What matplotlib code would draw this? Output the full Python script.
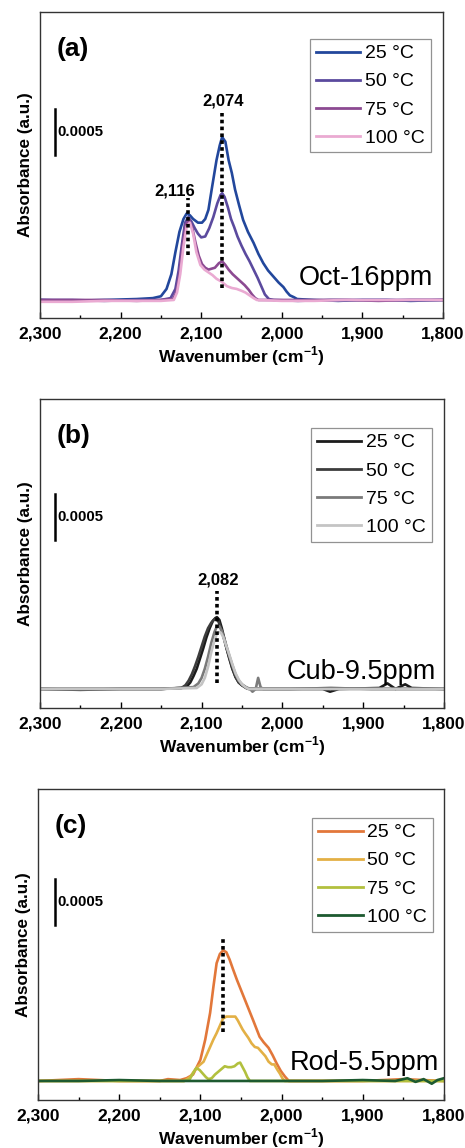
import matplotlib
matplotlib.use("Agg")
import matplotlib.pyplot as plt
from matplotlib.ticker import MultipleLocator

plt.rcParams['font.family'] = ['Liberation Sans', 'DejaVu Sans']
plt.rcParams['mathtext.fontset'] = 'custom'
plt.rcParams['mathtext.rm'] = 'Liberation Sans'
plt.rcParams['mathtext.bf'] = 'Liberation Sans:bold'

# ---- data (wavenumber in cm-1, absorbance above baseline) ----
XTICKS = [2300, 2200, 2100, 2000, 1900, 1800]
XTICK_LABELS = ['2,300', '2,200', '2,100', '2,000', '1,900', '1,800']
TEMPS = ['25 °C', '50 °C', '75 °C', '100 °C']

# (a) Oct-16ppm
A25_WN = [2300, 2260, 2220, 2180, 2160, 2150, 2143, 2137, 2132, 2127, 2122, 2118, 2114, 2110, 2104,
          2099, 2095, 2091, 2087, 2081, 2077, 2074, 2070, 2066, 2062, 2058, 2053, 2048, 2042, 2035,
          2029, 2023, 2017, 2010, 2004, 1998, 1994, 1990, 1985, 1981, 1960, 1930, 1900, 1870, 1840, 1800]
A25_ABS = [0.0, -0.00001, 0.0, 0.00001, 0.00002, 0.00004, 0.00012, 0.00028, 0.00052, 0.00074, 0.00088,
           0.00094, 0.00092, 0.00088, 0.00084, 0.00084, 0.00088, 0.00098, 0.0012, 0.00152, 0.00168,
           0.00177, 0.00172, 0.00152, 0.00138, 0.0012, 0.00103, 0.00087, 0.00074, 0.00062, 0.0005,
           0.0004, 0.00032, 0.00025, 0.00019, 0.00014, 0.00009, 0.00005, 0.00003, 0.00001, 0.0,
           -0.00001, 0.0, 0.0, -0.00001, 0.0]
A50_WN = [2300, 2260, 2220, 2180, 2150, 2138, 2132, 2128, 2124, 2120, 2116, 2112, 2108, 2104, 2100,
          2095, 2090, 2085, 2080, 2076, 2074, 2071, 2067, 2063, 2059, 2055, 2050, 2045, 2040, 2035,
          2030, 2025, 2021, 2016, 2010, 1980, 1940, 1900, 1860, 1800]
A50_ABS = [0.0, 0.0, -0.00001, 0.0, 0.0, 0.00002, 0.00012, 0.00032, 0.0006, 0.00084, 0.0009, 0.00085,
           0.00078, 0.00072, 0.00068, 0.00069, 0.00078, 0.0009, 0.00105, 0.00114, 0.00116, 0.00112,
           0.00101, 0.00088, 0.00079, 0.00069, 0.00059, 0.0005, 0.00042, 0.00033, 0.00024, 0.00014,
           0.00006, 0.00001, 0.0, -0.00001, 0.0, 0.0, 0.0, 0.0]
A75_WN = [2300, 2260, 2220, 2180, 2150, 2135, 2131, 2127, 2123, 2119, 2115, 2111, 2107, 2103, 2099,
          2095, 2091, 2087, 2083, 2078, 2074, 2070, 2066, 2061, 2056, 2051, 2046, 2041, 2037, 2033,
          2029, 2000, 1960, 1920, 1880, 1840, 1800]
A75_ABS = [0.0, 0.0, 0.0, -0.00001, 0.0, 0.00001, 0.00008, 0.00028, 0.0006, 0.00082, 0.00087, 0.00078,
           0.00062, 0.00048, 0.00039, 0.00035, 0.00033, 0.00034, 0.00035, 0.0004, 0.00042, 0.00038,
           0.00033, 0.00028, 0.00024, 0.0002, 0.00016, 0.00011, 0.00006, 0.00002, 0.0, 0.0, 0.0, 0.0,
           -0.00001, 0.0, 0.0]
A100_WN = [2300, 2260, 2220, 2180, 2150, 2134, 2130, 2126, 2122, 2118, 2114, 2110, 2106, 2101, 2096,
           2091, 2086, 2081, 2075, 2068, 2062, 2056, 2050, 2045, 2040, 2035, 2031, 2000, 1960, 1920,
           1880, 1840, 1800]
A100_ABS = [-0.00002, -0.00002, -0.00001, -0.00001, -0.00001, 0.0, 0.00008, 0.00028, 0.00058, 0.0008,
            0.00084, 0.00072, 0.00052, 0.00038, 0.00033, 0.0003, 0.00027, 0.00023, 0.0002, 0.00015,
            0.00013, 0.00012, 0.0001, 0.00008, 0.00005, 0.00002, 0.0, -0.00001, -0.00001, 0.0, 0.0,
            0.0, 0.0]

# (b) Cub-9.5ppm
B25_WN = [2300, 2250, 2200, 2150, 2125, 2118, 2114, 2110, 2106, 2102, 2098, 2094, 2090, 2086, 2083,
          2081, 2078, 2075, 2072, 2069, 2066, 2062, 2058, 2054, 2050, 2046, 2042, 2000, 1950, 1941,
          1930, 1880, 1870, 1860, 1848, 1840, 1800]
B25_ABS = [0.0, 0.0, 0.0, 0.0, 0.00001, 0.00003, 0.00007, 0.00014, 0.00022, 0.00033, 0.00044, 0.00056,
           0.00066, 0.00074, 0.00077, 0.00078, 0.00075, 0.00066, 0.00055, 0.00044, 0.00034, 0.00022,
           0.00013, 0.00007, 0.00004, 0.00002, 0.0, 0.0, 0.0, -0.00003, 0.0, 0.00001, 0.00006, 0.0,
           0.00005, 0.00001, 0.0]
B50_WN = [2300, 2250, 2200, 2150, 2125, 2120, 2116, 2112, 2108, 2104, 2100, 2096, 2092, 2088, 2085,
          2082, 2079, 2076, 2073, 2070, 2066, 2062, 2058, 2054, 2050, 2045, 2040, 1990, 1940, 1890,
          1800]
B50_ABS = [0.0, -0.00001, 0.0, 0.0, 0.00001, 0.00004, 0.00009, 0.00016, 0.00025, 0.00035, 0.00046,
           0.00057, 0.00066, 0.00072, 0.00075, 0.00076, 0.00073, 0.00066, 0.00057, 0.00047, 0.00035,
           0.00023, 0.00013, 0.00007, 0.00004, 0.00001, 0.0, 0.0, 0.00001, 0.0, 0.0]
B75_WN = [2300, 2250, 2200, 2150, 2110, 2104, 2100, 2096, 2092, 2088, 2084, 2081, 2078, 2075, 2072,
          2069, 2066, 2062, 2058, 2054, 2050, 2045, 2040, 2037, 2033, 2030, 2027, 2024, 2000, 1950,
          1900, 1850, 1800]
B75_ABS = [0.0, 0.0, 0.0, 0.0, 0.00002, 0.00006, 0.00012, 0.00022, 0.00035, 0.0005, 0.00062, 0.00068,
           0.00068, 0.00063, 0.00055, 0.00046, 0.00037, 0.00026, 0.00016, 0.00009, 0.00005, 0.00002,
           0.0, -0.00003, 0.0, 0.00012, 0.00002, 0.0, 0.0, 0.0, 0.0, 0.0, 0.0]
B100_WN = [2300, 2250, 2200, 2150, 2106, 2100, 2096, 2092, 2088, 2084, 2081, 2078, 2076, 2073, 2070,
           2066, 2062, 2058, 2054, 2050, 2046, 2042, 2000, 1950, 1900, 1850, 1800]
B100_ABS = [0.0, 0.0, 0.0, 0.0, 0.00001, 0.00005, 0.00012, 0.00024, 0.0004, 0.00053, 0.0006, 0.00062,
            0.00061, 0.00056, 0.00048, 0.00038, 0.00027, 0.00017, 0.0001, 0.00005, 0.00002, 0.0, 0.0,
            0.0, 0.0, 0.0, 0.0]

# (c) Rod-5.5ppm
C25_WN = [2300, 2250, 2200, 2150, 2140, 2125, 2117, 2109, 2100, 2094, 2088, 2084, 2080, 2076, 2072,
          2068, 2064, 2060, 2055, 2050, 2045, 2040, 2035, 2031, 2027, 2022, 2016, 2011, 2006, 2001,
          1996, 1991, 1960, 1900, 1850, 1800]
C25_ABS = [0.0, 0.00002, 0.0, 0.0, 0.00002, 0.00001, 0.00003, 0.00007, 0.00023, 0.00045, 0.00074,
           0.00102, 0.00128, 0.00138, 0.00142, 0.0014, 0.00132, 0.00122, 0.0011, 0.00099, 0.00088,
           0.00077, 0.00066, 0.00057, 0.00048, 0.00042, 0.00036, 0.00028, 0.00019, 0.00011, 0.00005,
           0.0, 0.0, 0.0, 0.00002, 0.0]
C50_WN = [2300, 2200, 2120, 2113, 2105, 2100, 2096, 2092, 2088, 2084, 2080, 2076, 2072, 2068, 2064,
          2060, 2057, 2054, 2051, 2048, 2045, 2041, 2037, 2033, 2029, 2025, 2020, 2016, 2012, 2009,
          2005, 2002, 1999, 1996, 1900, 1800]
C50_ABS = [0.0, 0.0, 0.0, 0.00004, 0.00014, 0.00018, 0.00021, 0.00029, 0.00037, 0.00045, 0.00052,
           0.0006, 0.00068, 0.0007, 0.0007, 0.0007, 0.0007, 0.00066, 0.00061, 0.00056, 0.00052,
           0.00047, 0.00041, 0.00037, 0.00036, 0.00032, 0.00027, 0.00021, 0.00018, 0.00018, 0.00012,
           0.00008, 0.00003, 0.0, 0.0, 0.0]
C75_WN = [2300, 2200, 2120, 2113, 2108, 2105, 2101, 2097, 2093, 2090, 2086, 2082, 2078, 2074, 2070,
          2066, 2062, 2058, 2054, 2051, 2048, 2045, 2042, 2039, 2000, 1900, 1800]
C75_ABS = [0.0, 0.0, 0.0, 0.00002, 0.0001, 0.00014, 0.00012, 0.00008, 0.00004, 0.00002, 0.00003,
           0.00007, 0.0001, 0.00013, 0.00016, 0.00015, 0.00015, 0.00016, 0.00019, 0.0002, 0.00015,
           0.0001, 0.00004, 0.0, 0.0, 0.0, 0.0]
C100_WN = [2300, 2250, 2200, 2150, 2100, 2050, 2000, 1950, 1900, 1860, 1845, 1835, 1825, 1815, 1808, 1800]
C100_ABS = [0.0, 0.0, 0.00001, 0.0, 0.0, 0.0, 0.0, 0.0, 0.00001, 0.0, 0.00003, -0.00001, 0.00002,
            -0.00003, 0.00001, 0.00003]

A_COLORS = ['#22479c', '#5b4a9e', '#8c4a92', '#eaaad2']
B_COLORS = ['#1c1c1c', '#3c3c3c', '#7a7a7a', '#c4c4c4']
C_COLORS = ['#e2773a', '#e3b045', '#b2c03e', '#1d5a30']

# peak markers: (wavenumber, top, bottom, label, label x, label y)
A_MARKS = [(2116, 0.00111, 0.00049, '2,116', 2133, 0.00118),
           (2074, 0.00203, 0.00013, '2,074', 2073, 0.00216)]
B_MARKS = [(2081, 0.00106, 0.00006, '2,082', 2080, 0.00118)]
C_MARKS = [(2072, 0.00154, 0.00053, None, 0, 0)]


def draw_panel(fig, rect, ylim, curves, colors, marks, tag, sample, leg_anchor, bar_x, bar_y0, sample_xy):
    ax = fig.add_axes(rect)
    for (wn, ab), c, lab in zip(curves, colors, TEMPS):
        ax.plot(wn, ab, color=c, lw=1.9, label=lab)
    for x, top, bot, txt, tx, ty in marks:
        ax.plot([x, x], [bot, top], color='black', lw=2.6, linestyle=(0, (1, 0.9)),
                dash_capstyle='butt')
        if txt:
            ax.text(tx, ty, txt, ha='center', va='center', fontsize=12, fontweight='bold')
    # scale bar
    ax.plot([bar_x, bar_x], [bar_y0, bar_y0 + 0.0005], color='black', lw=1.8)
    ax.text(bar_x - 3, bar_y0 + 0.00025, '0.0005', ha='left', va='center',
            fontsize=10.8, fontweight='bold')
    ax.text(0.042, 0.88, tag, transform=ax.transAxes, ha='left', va='center',
            fontsize=19, fontweight='bold')
    ax.text(sample_xy[0], sample_xy[1], sample, transform=ax.transAxes, ha='right',
            va='center', fontsize=19.5)

    ax.set_xlim(2300, 1800)
    ax.set_ylim(*ylim)
    ax.set_xticks(XTICKS, XTICK_LABELS, fontsize=12.5, fontweight='bold')
    ax.xaxis.set_minor_locator(MultipleLocator(50))
    ax.tick_params(axis='x', which='major', direction='in', length=4, width=1, pad=6)
    ax.tick_params(axis='x', which='minor', direction='in', length=2.5, width=1)
    ax.set_yticks([])
    ax.set_xlabel('Wavenumber (cm$^{\\mathbf{-1}}$)', fontsize=12.5, fontweight='bold', labelpad=2)
    ax.set_ylabel('Absorbance (a.u.)', fontsize=12.3, fontweight='bold', labelpad=5)
    for sp in ax.spines.values():
        sp.set_color('#333333')
        sp.set_linewidth(1.0)

    leg = ax.legend(loc='upper right', bbox_to_anchor=leg_anchor, borderaxespad=0,
                    fontsize=14, frameon=True, fancybox=False, handlelength=2.3,
                    handletextpad=0.25, labelspacing=0.54, borderpad=0.3)
    leg.get_frame().set_edgecolor('#777777')
    leg.get_frame().set_linewidth(0.9)
    for h in leg.get_lines():
        h.set_linewidth(2.0)
    return ax


fig = plt.figure(figsize=(4.65, 11.48), dpi=100)

draw_panel(fig, [0.086, 0.7230, 0.8667, 0.2666], (-0.000196, 0.00313),
           [(A25_WN, A25_ABS), (A50_WN, A50_ABS), (A75_WN, A75_ABS), (A100_WN, A100_ABS)],
           A_COLORS, A_MARKS, '(a)', 'Oct-16ppm', (0.970, 0.912), 2281, 0.00158, (0.975, 0.131))
draw_panel(fig, [0.086, 0.3833, 0.8688, 0.2692], (-0.000207, 0.003152),
           [(B25_WN, B25_ABS), (B50_WN, B50_ABS), (B75_WN, B75_ABS), (B100_WN, B100_ABS)],
           B_COLORS, B_MARKS, '(b)', 'Cub-9.5ppm', (0.970, 0.906), 2281, 0.00162, (0.980, 0.117))
draw_panel(fig, [0.0817, 0.0418, 0.873, 0.2709], (-0.000207, 0.003174),
           [(C25_WN, C25_ABS), (C50_WN, C50_ABS), (C75_WN, C75_ABS), (C100_WN, C100_ABS)],
           C_COLORS, C_MARKS, '(c)', 'Rod-5.5ppm', (0.973, 0.907), 2279, 0.0017, (0.988, 0.119))

fig.savefig('out.png', dpi=100)
